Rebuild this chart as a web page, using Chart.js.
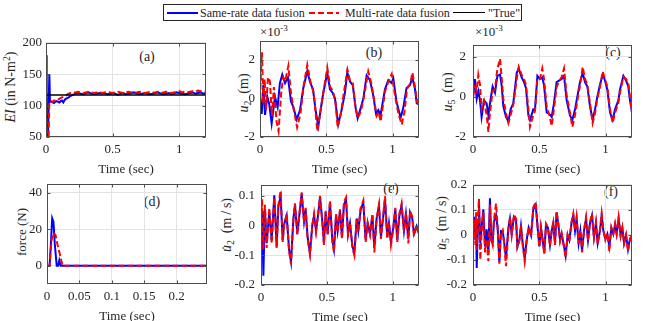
<!DOCTYPE html>
<html><head><meta charset="utf-8">
<script src="https://cdn.jsdelivr.net/npm/chart.js@4.4.0/dist/chart.umd.min.js"></script>
<style>
html,body{margin:0;padding:0;background:#fff;}
#root{position:relative;width:649px;height:321px;overflow:hidden;font-family:"Liberation Serif","Times New Roman",serif;color:#262626;}
canvas{position:absolute;}
.t{position:absolute;white-space:nowrap;line-height:1;}
.c{transform:translate(-50%,-50%);}
.r{transform:translate(-50%,-50%) rotate(-90deg);}
sub{font-size:70%;vertical-align:-0.3em;line-height:0;}
sup{font-size:70%;vertical-align:0.55em;line-height:0;}
.sw{position:absolute;}
</style></head><body><div id="root">
<div class="t" style="left:163px;top:4px;width:357px;height:15px;border:1px solid #262626;background:#fff;"></div>
<div class="sw" style="left:167px;top:12px;width:31px;height:2px;background:#0000ff;"></div>
<div class="t" style="left:200px;top:7px;font-size:12px;">Same-rate data fusion</div>
<div class="sw" style="left:309px;top:12px;width:30px;height:2px;background:repeating-linear-gradient(to right,#ff0000 0 6px,transparent 6px 9px);"></div>
<div class="t" style="left:345px;top:7px;font-size:12px;">Multi-rate data fusion</div>
<div class="sw" style="left:453px;top:12px;width:32px;height:1px;background:#000;"></div>
<div class="t" style="left:488px;top:7px;font-size:12px;">"True"</div>

<div class="t r" style="left:11px;top:87px;font-size:14px;"><i>EI</i> (in N-m<sup>2</sup>)</div>
<div class="t r" style="left:244px;top:93px;font-size:14px;"><i>u</i><sub>2</sub>&nbsp;&nbsp;(m)</div>
<div class="t r" style="left:448px;top:92px;font-size:14px;"><i>u</i><sub>5</sub>&nbsp;&nbsp;(m)</div>
<div class="t r" style="left:21px;top:232px;font-size:13px;">force (N)</div>
<div class="t r" style="left:227px;top:225px;font-size:14px;"><i>u̇</i><sub>2</sub>&nbsp;&nbsp;(m&thinsp;/&thinsp;s)</div>
<div class="t r" style="left:442px;top:223px;font-size:14px;"><i>u̇</i><sub>5</sub>&nbsp;&nbsp;(m&thinsp;/&thinsp;s)</div>

<div class="t" style="left:260px;top:25px;font-size:13px;">×10<sup>-3</sup></div>
<div class="t" style="left:475px;top:25px;font-size:13px;">×10<sup>-3</sup></div>

<div class="t c" style="left:147px;top:57px;font-size:14px;">(a)</div>
<div class="t c" style="left:374px;top:53px;font-size:14px;">(b)</div>
<div class="t c" style="left:613px;top:53px;font-size:14px;">(c)</div>
<div class="t c" style="left:152px;top:202px;font-size:14px;">(d)</div>
<div class="t c" style="left:391px;top:189px;font-size:14px;">(e)</div>
<div class="t c" style="left:611px;top:192px;font-size:14px;">(f)</div>
</div>
<script>
// ---------- tick values ----------
const timeTicks = [0, 0.5, 1];
const aYTicks = [50, 100, 150, 200];
const uYTicks = [-2, 0, 2];
const dXTicks = [0, 0.05, 0.1, 0.15, 0.2];
const dYTicks = [0, 20, 40];
const eYTicks = [-0.2, -0.1, 0, 0.1];
const fYTicks = [-0.2, -0.1, 0, 0.1, 0.2];

// ---------- (a) EI ----------
const aT = [0,0.005,0.01,0.015,0.02,0.025,0.03,0.04,0.05,0.06,0.07,0.08,0.09,0.1,0.11,0.12,0.13,0.14,0.15,0.16,0.17,0.18,0.19,0.2,
 0.22,0.24,0.26,0.28,0.3,0.32,0.34,0.36,0.38,0.4,0.42,0.44,0.46,0.48,0.5,0.52,0.54,0.56,0.58,0.6,0.62,0.64,0.66,0.68,0.7,0.72,0.74,0.76,0.78,0.8,
 0.82,0.84,0.86,0.88,0.9,0.92,0.94,0.96,0.98,1,1.02,1.04,1.06,1.08,1.1,1.12,1.14,1.16,1.18,1.2];
const aSame = [180,52,52,52,52,150,106,106,105,104,106,107,106,105,107,108,105,109,111,112,113,115,116,117,
 119,120,119,118,120,121,119,118,119,120,119,120,118,119,120,119,117,119,120,118,119,120,121,119,118,119,120,119,118,119,
 120,121,119,118,119,120,118,119,121,120,119,118,119,120,121,119,120,121,119,120];
const aMulti = [180,55,52,52,52,106,107,107,106,108,108,110,109,111,112,113,114,115,116,118,119,120,121,121,
 121,122,121,120,121,122,121,120,121,122,120,121,122,121,120,121,122,121,120,121,122,121,120,121,122,121,120,121,122,121,
 121,122,120,121,122,121,120,121,122,123,121,122,121,122,123,122,124,123,122,123];
const aTrueT = [0, 1.2];
const aTrue = [117, 117];

// ---------- (b) u2 (x1e-3 m) ----------
const bSameT = [0,0.013,0.025,0.038,0.055,0.07,0.088,0.113,0.133,0.15,0.168,0.189,0.211,0.234,0.252,0.277,0.302,0.327,0.357,0.377,
 0.4,0.42,0.44,0.46,0.478,0.508,0.528,0.548,0.566,0.59,0.616,0.641,0.659,0.679,0.7,0.722,0.737,0.76,0.78,0.805,
 0.83,0.855,0.875,0.893,0.91,0.943,0.968,0.993,1.006,1.03,1.061,1.081,1.106,1.132,1.15,1.17,1.183,1.2];
const bSame = [0,-0.8,0.7,-0.85,0.1,-0.3,-1.3,0.1,-0.45,0.8,1.25,0.8,1.1,-0.15,-0.45,-1.1,-0.6,0.55,1.43,0.87,
 0.48,-0.63,-1.43,-0.48,0.3,1.35,0.48,0.3,0,-1.35,-0.6,0.3,1.35,0.88,0.7,-0.5,-1.03,-0.5,0,1.2,
 0.95,0.15,-0.78,-0.6,-0.85,0.48,0.95,0.8,1.05,-0.15,-1.0,-0.5,0.55,0.7,1.1,0.48,-0.25,-0.3];
const bMultiT = [0,0.008,0.015,0.025,0.035,0.045,0.06,0.075,0.09,0.105,0.125,0.14,0.16,0.175,0.19,0.214,0.235,0.255,0.28,0.305,
 0.33,0.357,0.38,0.405,0.433,0.455,0.48,0.508,0.53,0.55,0.57,0.586,0.61,0.635,0.66,0.68,0.7,0.72,0.737,0.76,
 0.785,0.817,0.84,0.86,0.88,0.895,0.91,0.945,0.97,0.994,1.02,1.045,1.07,1.09,1.11,1.135,1.15,1.17,1.185,1.2];
const bMulti = [0,1.5,2.4,-0.3,1.0,-0.6,1.1,0.9,-0.9,0.6,-1.2,-1.7,0.3,1.1,0.9,1.7,0.2,-0.6,-1.5,-0.8,
 0.7,1.75,0.9,0.3,-1.7,-0.7,0.4,1.6,0.6,0.4,-0.2,-1.5,-0.8,0.4,1.5,0.9,0.8,-0.4,-1.0,-0.7,
 0.1,1.4,0.8,0.0,-0.9,-0.7,-1.2,0.4,0.9,1.27,0.1,-0.8,-1.35,-0.7,0.5,0.8,1.35,0.6,-0.2,-0.3];

// ---------- (c) u5 (x1e-3 m) ----------
const cT = [0,0.015,0.028,0.04,0.053,0.065,0.083,0.103,0.116,0.128,0.148,0.166,0.184,0.204,0.216,0.229,0.249,0.267,0.284,0.304,
 0.33,0.345,0.367,0.385,0.4,0.418,0.43,0.455,0.468,0.486,0.506,0.523,0.536,0.556,0.576,0.594,0.611,0.631,0.652,0.669,
 0.687,0.707,0.732,0.75,0.77,0.787,0.808,0.828,0.845,0.863,0.883,0.903,0.921,0.938,0.958,0.979,0.996,1.014,1.034,1.054,
 1.072,1.097,1.109,1.135,1.155,1.172,1.185,1.2];
const cSame = [0,0.89,-0.09,0.29,-0.17,-1.0,-0.17,-0.32,-0.92,-0.32,0.52,0.21,1.05,1.12,0.59,-0.47,-1.0,-1.23,-0.62,-0.32,
 1.2,1.42,0.97,0.74,0.44,-0.92,-1.15,-0.62,-0.62,1.05,0.89,0.97,0.59,-0.77,-0.85,-1.0,-0.32,0.74,0.82,0.89,
 1.05,-0.17,-0.92,-1.15,-0.62,0,0.74,1.2,0.74,0.52,-0.47,-1.15,-0.62,0,0.59,1.12,0.82,0.36,-0.77,-1.15,
 -0.62,-0.17,0.36,1.05,0.82,0.52,-0.17,-0.77];
const cMulti = [0,0.5,0.3,1.1,0.6,-0.6,-0.2,-0.9,-1.75,-0.8,0.3,0.4,1.4,1.9,1.0,-0.1,-0.8,-1.3,-0.9,-0.4,
 0.9,1.5,1.1,0.9,0.6,-0.6,-1.5,-0.9,-0.7,0.9,0.9,1.42,0.9,-0.5,-0.9,-1.45,-0.6,0.5,0.8,1.0,
 1.42,0.1,-0.8,-1.5,-0.9,-0.2,0.6,1.5,0.9,0.6,-0.3,-1.3,-0.8,-0.1,0.5,1.27,0.9,0.5,-0.6,-1.3,
 -0.8,-0.3,0.2,1.0,0.9,0.7,0.0,-0.8];

// ---------- (d) force (N) ----------
const dSameT = [0,0.004,0.006,0.008,0.01,0.012,0.015,0.017,0.019,0.021,0.247];
const dSame = [0,0,12,26,24,12,0,0,3,0,0];
const dMultiT = [0,0.004,0.007,0.01,0.013,0.016,0.02,0.024,0.247];
const dMulti = [0,0,14,18,17,12,6,0,0];

// ---------- (e) u2 dot (m/s) ----------
const eT = [0,0.008,0.013,0.018,0.030,0.043,0.063,0.081,0.101,0.119,0.132,0.149,0.165,0.175,0.195,0.213,0.228,0.246,0.258,0.276,
 0.291,0.309,0.327,0.339,0.354,0.372,0.390,0.403,0.418,0.435,0.448,0.466,0.478,0.491,0.506,0.524,0.542,0.554,0.570,0.582,
 0.600,0.615,0.630,0.646,0.661,0.676,0.694,0.709,0.727,0.739,0.757,0.777,0.795,0.810,0.828,0.846,0.861,0.878,0.896,0.911,
 0.929,0.942,0.959,0.972,0.987,1.005,1.020,1.035,1.051,1.068,1.086,1.101,1.119,1.132,1.149,1.162,1.182,1.2];
const eSame = [0,0.05,-0.05,-0.169,0.055,-0.059,0.045,-0.049,0.102,-0.07,0.066,0.097,-0.049,0.003,0.034,-0.08,-0.122,0.024,0.071,-0.028,
 0.034,0.107,0.014,0.055,-0.039,-0.091,0.003,0.034,-0.018,0.04,0.097,0.014,-0.059,0.045,-0.028,0.076,-0.049,-0.08,0.034,-0.018,
 0.05,-0.039,0.071,0.086,-0.028,0.008,-0.07,-0.091,0.024,-0.018,0.055,0.076,-0.049,0.008,-0.028,0.034,-0.075,0.024,0.066,-0.039,
 0.034,0.086,-0.039,0.008,-0.054,-0.007,0.055,-0.049,0.034,0.066,-0.018,0.04,-0.044,0.045,0.024,-0.028,-0.002,-0.028];
const eMulti = [0,0.09,-0.03,-0.08,0.07,-0.075,0.06,-0.06,0.095,-0.075,0.07,0.118,-0.055,0.0,0.04,-0.085,-0.13,0.02,0.075,-0.03,
 0.04,0.112,0.01,0.06,-0.045,-0.098,0.0,0.04,-0.02,0.045,0.1,0.01,-0.065,0.05,-0.03,0.085,-0.055,-0.09,0.04,-0.02,
 0.055,-0.045,0.08,0.095,-0.03,0.01,-0.075,-0.1,0.02,-0.02,0.06,0.085,-0.055,0.01,-0.03,0.04,-0.09,0.02,0.07,-0.045,
 0.04,0.1,-0.045,0.01,-0.065,-0.01,0.06,-0.055,0.04,0.075,-0.02,0.045,-0.06,0.05,0.03,-0.035,0.0,-0.03];

// ---------- (f) u5 dot (m/s) ----------
const fT = [0,0.010,0.018,0.023,0.028,0.038,0.045,0.055,0.065,0.078,0.091,0.103,0.116,0.128,0.138,0.148,0.158,0.174,0.186,0.199,
 0.211,0.224,0.236,0.249,0.267,0.279,0.292,0.309,0.325,0.335,0.350,0.362,0.375,0.390,0.405,0.420,0.438,0.455,0.473,0.488,
 0.501,0.513,0.526,0.538,0.551,0.566,0.581,0.594,0.606,0.619,0.631,0.644,0.657,0.669,0.687,0.699,0.714,0.727,0.745,0.757,
 0.770,0.782,0.797,0.810,0.823,0.838,0.853,0.868,0.883,0.898,0.913,0.928,0.941,0.958,0.971,0.984,0.999,1.014,1.029,1.044,
 1.059,1.072,1.084,1.099,1.114,1.127,1.14,1.155,1.17,1.185,1.2];
const fSame = [0,0.072,-0.021,0.065,-0.132,0.053,0.127,-0.033,0.028,0.102,-0.046,0.022,-0.07,0.146,-0.021,-0.033,0.053,0.078,0.028,-0.107,
 0.016,0.016,-0.033,-0.095,0.028,0.065,0.004,0.072,0.059,-0.046,-0.021,0.035,-0.033,-0.095,-0.021,0.028,-0.002,0.102,0.121,0.028,
 -0.046,0.028,-0.021,-0.07,0.041,0.028,-0.04,0.016,0.047,-0.033,0.09,0.041,-0.021,0.004,-0.046,-0.083,-0.002,-0.021,0.053,0.078,
 0.016,0.065,-0.033,0.016,-0.064,0.016,0.065,-0.021,0.047,0.078,-0.009,0.047,-0.033,0.016,0.078,0.016,-0.015,0.004,-0.046,0.028,
 0.004,0.041,0.004,0.065,-0.002,0.028,-0.033,-0.002,-0.058,-0.015,-0.002];
const fMulti = [0,0.06,-0.04,0.09,-0.06,0.08,0.145,-0.1,0.01,0.09,-0.07,-0.02,-0.105,0.12,-0.02,-0.04,0.06,0.125,0.03,-0.115,
 0.01,0.02,-0.04,-0.125,0.02,0.07,0.0,0.08,0.065,-0.05,-0.025,0.04,-0.04,-0.105,-0.025,0.03,-0.005,0.11,0.13,0.03,
 -0.05,0.03,-0.025,-0.075,0.045,0.03,-0.045,0.02,0.05,-0.04,0.095,0.045,-0.025,0.005,-0.05,-0.09,0.0,-0.025,0.055,0.085,
 0.02,0.07,-0.035,0.02,-0.07,0.02,0.07,-0.025,0.05,0.085,-0.01,0.05,-0.035,0.02,0.085,0.02,-0.02,0.005,-0.065,0.03,
 0.005,0.045,0.005,0.07,-0.005,0.03,-0.035,0.0,-0.065,-0.02,0.0];

// ---------- drawing ----------
const root = document.getElementById('root');
const FONT = {family: '"Liberation Serif","Times New Roman",serif', size: 13};
const TXT = '#262626';
const pts = (t, v) => t.map((x, i) => ({x: x, y: v[i]}));
const same = (t, v) => ({data: pts(t, v), borderColor: '#0000ff', borderWidth: 2, order: 3});
const multi = (t, v) => ({data: pts(t, v), borderColor: '#ff0000', borderWidth: 2, borderDash: [6, 3], order: 2});
const truth = (t, v) => ({data: pts(t, v), borderColor: '#000000', borderWidth: 1.5, order: 1});

const boxPlugin = {
  id: 'boxTicks',
  afterDatasetsDraw(chart) {
    const {ctx, chartArea: a, scales: {x, y}} = chart;
    const L = Math.round(a.left) + 0.5, R = Math.round(a.right) - 0.5;
    const T = Math.round(a.top) + 0.5, B = Math.round(a.bottom) - 0.5;
    ctx.save();
    ctx.strokeStyle = '#4d4d4d'; ctx.lineWidth = 1; ctx.setLineDash([]);
    ctx.strokeRect(L, T, R - L, B - T);
    ctx.beginPath();
    const tl = 3;
    x.ticks.forEach(t => { const p = Math.round(x.getPixelForValue(t.value)) + 0.5;
      ctx.moveTo(p, B); ctx.lineTo(p, B - tl); ctx.moveTo(p, T); ctx.lineTo(p, T + tl); });
    y.ticks.forEach(t => { const p = Math.round(y.getPixelForValue(t.value)) + 0.5;
      ctx.moveTo(L, p); ctx.lineTo(L + tl, p); ctx.moveTo(R, p); ctx.lineTo(R - tl, p); });
    ctx.stroke();
    ctx.restore();
  }
};

function panel(box, xr, yr, xTicks, yTicks, yPad, datasets) {
  const PL = 44, PT = 6, PR = 6, XH = 42;
  const w = box.r - box.l + PL + PR, h = box.b - box.t + PT + XH;
  const cv = document.createElement('canvas');
  cv.width = w; cv.height = h;
  cv.style.left = (box.l - PL) + 'px'; cv.style.top = (box.t - PT) + 'px';
  cv.style.width = w + 'px'; cv.style.height = h + 'px';
  root.appendChild(cv);
  new Chart(cv, {
    type: 'line',
    data: {datasets: datasets},
    options: {
      responsive: false, animation: false, devicePixelRatio: 1,
      layout: {padding: {left: 0, top: PT, right: PR, bottom: 0}, autoPadding: false},
      plugins: {legend: {display: false}, tooltip: {enabled: false}},
      elements: {point: {radius: 0}, line: {tension: 0, borderCapStyle: 'butt'}},
      scales: {
        x: {
          type: 'linear', min: xr[0], max: xr[1],
          afterFit: s => { s.height = XH; },
          afterBuildTicks: s => { s.ticks = xTicks.map(v => ({value: v})); },
          ticks: {callback: v => String(v), font: FONT, color: TXT, padding: 5, maxRotation: 0, autoSkip: false},
          grid: {color: '#e3e3e3', drawTicks: false}, border: {display: false},
          title: {display: true, text: 'Time (sec)', font: FONT, color: TXT, padding: {top: 0, bottom: 2}}
        },
        y: {
          type: 'linear', min: yr[0], max: yr[1],
          afterFit: s => { s.width = PL; },
          afterBuildTicks: s => { s.ticks = yTicks.map(v => ({value: v})); },
          ticks: {callback: v => String(v), font: FONT, color: TXT, padding: yPad, autoSkip: false},
          grid: {color: '#e3e3e3', drawTicks: false}, border: {display: false}
        }
      }
    },
    plugins: [boxPlugin]
  });
}

panel({l: 46, r: 206, t: 37, b: 137}, [0, 1.2], [50, 200], timeTicks, aYTicks, 4,
  [same(aT, aSame), multi(aT, aMulti), truth(aTrueT, aTrue)]);
panel({l: 260, r: 419, t: 34, b: 137}, [0, 1.2], [-2, 3], timeTicks, uYTicks, 5,
  [same(bSameT, bSame), multi(bMultiT, bMulti)]);
panel({l: 473, r: 632, t: 36, b: 137}, [0, 1.2], [-2, 2.6], timeTicks, uYTicks, 7,
  [same(cT, cSame), multi(cT, cMulti)]);
panel({l: 47, r: 207, t: 177, b: 284}, [0, 0.247], [-10, 45], dXTicks, dYTicks, 5,
  [same(dSameT, dSame), multi(dMultiT, dMulti)]);
panel({l: 261, r: 419, t: 177, b: 285}, [0, 1.2], [-0.2, 0.1375], timeTicks, eYTicks, 6,
  [same(eT, eSame), multi(eT, eMulti)]);
panel({l: 473, r: 632, t: 177, b: 285}, [0, 1.2], [-0.2, 0.2], timeTicks, fYTicks, 6,
  [same(fT, fSame), multi(fT, fMulti)]);
</script>
</body></html>
